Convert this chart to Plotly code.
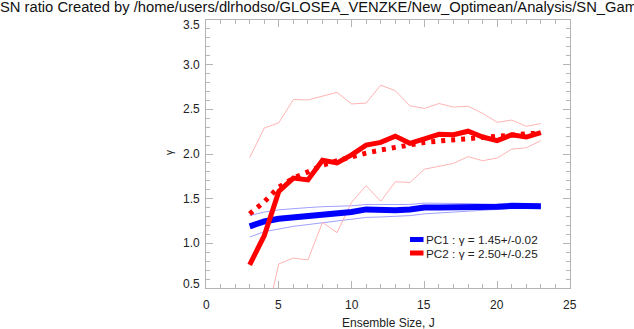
import plotly.graph_objects as go

# Ensemble sizes
ens_size = list(range(3, 24))

# PC1 signal-to-noise ratio: mean and spread bounds
pc1_mean = [1.19, 1.245, 1.275, 1.29, 1.31, 1.32, 1.33, 1.35, 1.38, 1.37, 1.37,
            1.38, 1.40, 1.40, 1.40, 1.41, 1.41, 1.41, 1.42, 1.42, 1.415]
pc1_upper = [1.31, 1.35, 1.375, 1.39, 1.40, 1.41, 1.415, 1.42, 1.435, 1.435, 1.43,
             1.435, 1.45, 1.45, 1.445, 1.445, 1.44, 1.44, 1.435, 1.43, 1.425]
pc1_lower = [1.07, 1.13, 1.16, 1.19, 1.21, 1.23, 1.245, 1.265, 1.29, 1.295, 1.30,
             1.31, 1.33, 1.34, 1.35, 1.36, 1.375, 1.385, 1.395, 1.40, 1.405]

# PC2 signal-to-noise ratio: mean, spread bounds and fitted curve
pc2_mean = [0.76, 1.085, 1.58, 1.73, 1.71, 1.93, 1.90, 1.99, 2.10, 2.13, 2.20,
            2.12, 2.17, 2.22, 2.215, 2.255, 2.19, 2.15, 2.215, 2.19, 2.24]
pc2_upper = [1.96, 2.29, 2.35, 2.61, 2.605, 2.645, 2.69, 2.56, 2.57, 2.77, 2.71,
             2.54, 2.51, 2.565, 2.525, 2.535, 2.455, 2.355, 2.38, 2.31, 2.34]
pc2_lower = [-0.40, 0.06, 0.77, 0.835, 0.815, 1.235, 1.12, 1.46, 1.645, 1.47, 1.69,
             1.68, 1.83, 1.86, 1.895, 1.97, 1.925, 1.955, 2.055, 2.07, 2.15]
pc2_fit = [1.33, 1.465, 1.63, 1.73, 1.80, 1.875, 1.925, 1.97, 2.01, 2.045, 2.075,
           2.105, 2.13, 2.145, 2.16, 2.17, 2.185, 2.20, 2.21, 2.225, 2.235]

# Axis tick values and labels
x_ticks = [0, 5, 10, 15, 20, 25]
x_tick_labels = ["0", "5", "10", "15", "20", "25"]
y_ticks = [0.5, 1.0, 1.5, 2.0, 2.5, 3.0, 3.5]
y_tick_labels = ["0.5", "1.0", "1.5", "2.0", "2.5", "3.0", "3.5"]

legend_labels = ["PC1 : γ = 1.45+/-0.02", "PC2 : γ = 2.50+/-0.25"]

BLUE = "#0000ff"
RED = "#ff0000"
LIGHT_BLUE = "#a0a0ff"
LIGHT_RED = "#ffb4b4"
FONT = "Liberation Sans, Arial, Helvetica, sans-serif"
AXIS_GREY = "#b4b4b4"
TEXT = "#222222"

# plot-area geometry in pixels
L, R, T, B = 206, 64, 20, 41
W, H = 634, 329
PW, PH = W - L - R, H - T - B

fig = go.Figure()

def add_line(y, color, width, dash="solid"):
    fig.add_trace(go.Scatter(x=ens_size, y=y, mode="lines",
                             line=dict(color=color, width=width, dash=dash),
                             showlegend=False, hoverinfo="skip"))

add_line(pc1_upper, LIGHT_BLUE, 1)
add_line(pc1_lower, LIGHT_BLUE, 1)
add_line(pc2_upper, LIGHT_RED, 1)
add_line(pc2_lower, LIGHT_RED, 1)
add_line(pc1_mean, BLUE, 6)
add_line(pc2_mean, RED, 5)
add_line(pc2_fit, RED, 5, dash="4px,6px")

axis_common = dict(
    showline=True, linecolor=AXIS_GREY, linewidth=1, mirror="ticks",
    ticks="inside", tickcolor=AXIS_GREY, tickwidth=1, ticklen=7,
    showgrid=False, zeroline=False, showticklabels=False,
)

fig.update_xaxes(range=[0, 25], tickvals=x_ticks,
                 minor=dict(dtick=1, ticks="inside", ticklen=4, tickcolor=AXIS_GREY),
                 **axis_common)
fig.update_yaxes(range=[0.5, 3.5], tickvals=y_ticks,
                 minor=dict(dtick=0.1, ticks="inside", ticklen=4, tickcolor=AXIS_GREY),
                 **axis_common)

tick_font = dict(family=FONT, size=12, color=TEXT)

# x tick labels, centred 17 px below the axis
for v, lab in zip(x_ticks, x_tick_labels):
    fig.add_annotation(xref="x", yref="paper", x=v, y=-(17 / PH), text=lab,
                       showarrow=False, xanchor="center", yanchor="middle",
                       font=tick_font)

# y tick labels, end labels nudged inside the axis span
for v, lab in zip(y_ticks, y_tick_labels):
    shift = -5 if v == y_ticks[-1] else (4 if v == y_ticks[0] else 0)
    fig.add_annotation(xref="paper", yref="y", x=-4.5 / PW, y=v, yshift=shift,
                       text=lab, showarrow=False, xanchor="right", yanchor="middle",
                       font=tick_font)

# axis titles
fig.add_annotation(xref="paper", yref="paper", x=0.5, y=-(35 / PH),
                   text="Ensemble Size, J", showarrow=False,
                   xanchor="center", yanchor="middle", font=tick_font)
fig.add_annotation(xref="paper", yref="paper", x=-(36 / PW), y=1 - (133 / PH),
                   text="γ", textangle=-90, showarrow=False,
                   xanchor="center", yanchor="middle",
                   font=dict(family=FONT, size=10, color=TEXT))

# Legend drawn as short line samples with labels
legend_y = [239.5, 253]
legend_colors = [BLUE, RED]
for label, ypx, col in zip(legend_labels, legend_y, legend_colors):
    yp = 1 - (ypx - T) / PH
    x0 = (410 - L) / PW
    x1 = (423.5 - L) / PW
    fig.add_shape(type="line", xref="paper", yref="paper", x0=x0, x1=x1, y0=yp, y1=yp,
                  line=dict(color=col, width=5))
    fig.add_annotation(xref="paper", yref="paper", x=x1, y=yp, xanchor="left",
                       yanchor="middle", text=label, showarrow=False,
                       font=dict(family=FONT, size=11.75, color=TEXT))

fig.update_layout(
    width=W, height=H,
    margin=dict(l=L, r=R, t=T, b=B, pad=0),
    paper_bgcolor="white", plot_bgcolor="white",
    title=dict(text="SN ratio Created by /home/users/dlrhodso/GLOSEA_VENZKE/New_Optimean/Analysis/SN_Gamma",
               x=0, xref="container", xanchor="left",
               y=1 - 7 / H, yref="container", yanchor="middle",
               font=dict(family=FONT, size=14.75, color="#111111")),
)

fig.write_html("out.html")
